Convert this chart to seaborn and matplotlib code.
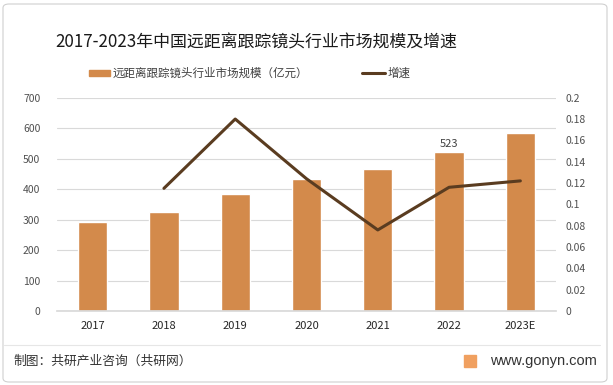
import matplotlib.pyplot as plt
import numpy as np
import pandas as pd
import seaborn as sns
from matplotlib.patches import FancyBboxPatch, Rectangle

years = ['2017', '2018', '2019', '2020', '2021', '2022', '2023E']
market_size = [293, 325, 384, 434, 467, 523, 585]
growth_years = ['2018', '2019', '2020', '2021', '2022', '2023E']
growth = [0.115, 0.180, 0.124, 0.076, 0.116, 0.122]

bar_color = '#D38A4B'
line_color = '#5A3C20'

sns.set_theme(style='white')
plt.rcParams['font.family'] = ['Noto Sans CJK SC', 'DejaVu Sans']

df = pd.DataFrame({'year': years, 'size': market_size})
pos = {y: i for i, y in enumerate(years)}
gdf = pd.DataFrame({'x': [pos[y] for y in growth_years], 'growth': growth})

fig = plt.figure(figsize=(6.13, 3.85), dpi=100)
ax = fig.add_axes([57 / 613, 1 - 311 / 385, 499 / 613, 213.3 / 385])

sns.barplot(data=df, x='year', y='size', color=bar_color, saturation=1,
            width=0.41, ax=ax, zorder=2)
ax.set_ylim(0, 700)
ax.set_yticks(range(0, 701, 100))
ax.set_xlim(-0.5, len(years) - 0.5)
ax.grid(axis='y', color='#D9D9D9', linewidth=0.8, zorder=0)
ax.set_axisbelow(True)
for s in ['top', 'left', 'right']:
    ax.spines[s].set_visible(False)
ax.spines['bottom'].set_color('#D9D9D9')
ax.set_xlabel('')
ax.set_ylabel('')
ax.tick_params(axis='y', length=0, labelsize=7.5, labelcolor='#505050', pad=12)
ax.tick_params(axis='x', length=0, labelsize=8, labelcolor='#262626', pad=7)

# data label for 2022
i22 = pos['2022']
ax.text(i22, market_size[i22] + 10, str(market_size[i22]), ha='center', va='bottom',
        fontsize=8, color='#404040')

ax2 = ax.twinx()
sns.lineplot(data=gdf, x='x', y='growth', color=line_color, linewidth=2.2, ax=ax2)
ax2.set_ylim(0, 0.2)
ax2.set_yticks(np.round(np.arange(0, 0.201, 0.02), 2))
ax2.set_yticklabels(['0', '0.02', '0.04', '0.06', '0.08', '0.1', '0.12', '0.14',
                     '0.16', '0.18', '0.2'])
for s in ['top', 'left', 'right', 'bottom']:
    ax2.spines[s].set_visible(False)
ax2.set_ylabel('')
ax2.set_xlabel('')
ax2.tick_params(axis='y', length=0, labelsize=7.5, labelcolor='#505050', pad=7)
ax.set_xlim(-0.5, len(years) - 0.5)

# title
fig.text(256 / 613, 1 - 42 / 385, '2017-2023年中国远距离跟踪镜头行业市场规模及增速',
         ha='center', va='center', fontsize=12.2, color='#1a1a1a')

# legend
fig.patches.append(Rectangle((89 / 613, 1 - 76 / 385), 21 / 613, 6 / 385,
                             transform=fig.transFigure, color=bar_color))
fig.text(113 / 613, 1 - 73 / 385, '远距离跟踪镜头行业市场规模（亿元）', ha='left', va='center',
         fontsize=8.3, color='#404040')
fig.lines.append(plt.Line2D([362 / 613, 385 / 613], [1 - 73 / 385, 1 - 73 / 385],
                            transform=fig.transFigure, color=line_color, linewidth=2.2))
fig.text(388 / 613, 1 - 73 / 385, '增速', ha='left', va='center', fontsize=8.3, color='#404040')

# footer
fig.lines.append(plt.Line2D([4 / 613, 600 / 613], [1 - 345 / 385, 1 - 345 / 385],
                            transform=fig.transFigure, color='#E6E6E6', linewidth=0.8))
fig.text(13 / 613, 1 - 361 / 385, '制图：共研产业咨询（共研网）', ha='left', va='center',
         fontsize=9.2, color='#333333')
fig.patches.append(Rectangle((464 / 613, 1 - 367 / 385), 12 / 613, 12 / 385,
                             transform=fig.transFigure, color='#F0A060'))
fig.text(597 / 613, 1 - 361 / 385, 'www.gonyn.com', ha='right', va='center',
         fontsize=10.5, color='#333333', family=['Liberation Sans', 'DejaVu Sans'])

# frame
fig.patches.append(FancyBboxPatch((3 / 613, 3 / 385), 604 / 613, 378 / 385,
                                  boxstyle='round,pad=0,rounding_size=0.01',
                                  transform=fig.transFigure, fill=False,
                                  edgecolor='#D0D0D0', linewidth=0.8))

fig.savefig('out.png', dpi=100)
